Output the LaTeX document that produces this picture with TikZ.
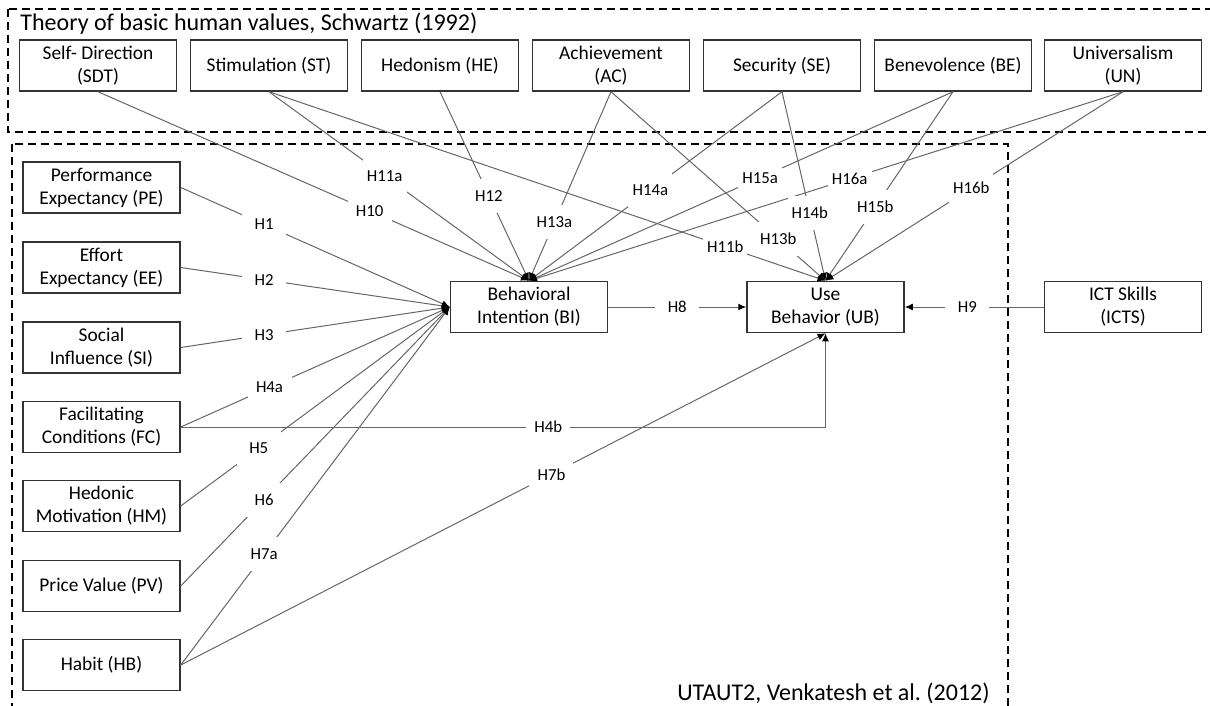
\documentclass[tikz,border=0pt]{standalone}
\usepackage{fontspec}
\setmainfont{Carlito}
\usetikzlibrary{arrows.meta}

\begin{document}
\begin{tikzpicture}[
  x=0.5pt, y=-0.5pt,
  box/.style={rectangle, draw=black!80, line width=0.75pt, align=center,
              font=\fontsize{9.7}{11.5}\selectfont, minimum width=78.5pt,
              minimum height=25.5pt, inner sep=1pt},
  hyp/.style={fill=white, font=\fontsize{8.4}{9}\selectfont, inner sep=0pt,
              minimum width=22pt, minimum height=17pt},
  arr/.style={-{Latex[length=4pt,width=3.4pt,color=black]}, draw=black!60,
              line width=0.5pt},
  region/.style={draw=black, line width=1pt, dash pattern=on 4pt off 2.5pt},
  title/.style={font=\fontsize{12}{14}\selectfont, inner sep=0pt}
]
\useasboundingbox (0,0) rectangle (1210,706);

% frames of the two theories
\draw[region] (8,9) rectangle (1222,132);
\draw[region] (12,144) rectangle (1008,720);
\node[title, anchor=base west] (schwartz) at (20,31) {Theory of basic human values, Schwartz (1992)};
\node[title, anchor=base east] (utaut)    at (990,700) {UTAUT2, Venkatesh et al.\ (2012)};

% Schwartz values
\node[box] (sdt) at (98,65.5)   {Self- Direction\\(SDT)};
\node[box] (st)  at (269,65.5)  {Stimulation (ST)};
\node[box] (he)  at (440,65.5)  {Hedonism (HE)};
\node[box] (ac)  at (611,65.5)  {Achievement\\(AC)};
\node[box] (se)  at (782,65.5)  {Security (SE)};
\node[box] (be)  at (953,65.5)  {Benevolence (BE)};
\node[box] (un)  at (1123,65.5) {Universalism\\(UN)};

% UTAUT2 constructs
\node[box] (pe) at (101.5,187.5) {Performance\\Expectancy (PE)};
\node[box] (ee) at (101.5,267.5) {Effort\\Expectancy (EE)};
\node[box] (si) at (101.5,347.5) {Social\\Influence (SI)};
\node[box] (fc) at (101.5,427)   {Facilitating\\Conditions (FC)};
\node[box] (hm) at (101.5,506)   {Hedonic\\Motivation (HM)};
\node[box] (pv) at (101.5,586)   {Price Value (PV)};
\node[box] (hb) at (101.5,665)   {Habit (HB)};

\node[box] (bi)   at (529,307)  {Behavioral\\Intention (BI)};
\node[box] (ub)   at (825.5,307){Use\\Behavior (UB)};
\node[box] (icts) at (1123,307) {ICT Skills\\(ICTS)};

% hypotheses towards BI
\draw[arr] (pe.east) -- node[hyp, pos=.31] (h1)  {H1}  (bi.west);
\draw[arr] (ee.east) -- node[hyp, pos=.31] (h2)  {H2}  (bi.west);
\draw[arr] (si.east) -- node[hyp, pos=.31] (h3)  {H3}  (bi.west);
\draw[arr] (fc.east) -- node[hyp, pos=.33] (h4a) {H4a} (bi.west);
\draw[arr] (hm.east) -- node[hyp, pos=.29] (h5)  {H5}  (bi.west);
\draw[arr] (pv.east) -- node[hyp, pos=.31] (h6)  {H6}  (bi.west);
\draw[arr] (hb.east) -- node[hyp, pos=.31] (h7a) {H7a} (bi.west);

\draw[arr] (sdt.south) -- node[hyp, pos=.63]  (h10)  {H10}  (bi.north);
\draw[arr] (st.south)  -- node[hyp, pos=.445] (h11a) {H11a} (bi.north);
\draw[arr] (he.south)  -- node[hyp, pos=.55]  (h12)  {H12}  (bi.north);
\draw[arr] (ac.south)  -- node[hyp, pos=.69]  (h13a) {H13a} (bi.north);
\draw[arr] (se.south)  -- node[hyp, pos=.52]  (h14a) {H14a} (bi.north);
\draw[arr] (be.south)  -- node[hyp, pos=.455] (h15a) {H15a} (bi.north);
\draw[arr] (un.south)  -- node[hyp, pos=.46]  (h16a) {H16a} (bi.north);

% hypotheses towards UB
\draw[arr] (st.south) -- node[hyp, pos=.82] (h11b) {H11b} (ub.north);
\draw[arr] (ac.south) -- node[hyp, pos=.78] (h13b) {H13b} (ub.north);
\draw[arr] (se.south) -- node[hyp, pos=.64] (h14b) {H14b} (ub.north);
\draw[arr] (be.south) -- node[hyp, pos=.61] (h15b) {H15b} (ub.north);
\draw[arr] (un.south) -- node[hyp, pos=.51] (h16b) {H16b} (ub.north);

\draw[arr] (bi.east)   -- node[hyp, pos=.5]  (h8) {H8} (ub.west);
\draw[arr] (icts.west) -- node[hyp, pos=.55] (h9) {H9} (ub.east);
\draw[arr] (fc.east) -- node[hyp, pos=.57] (h4b) {H4b} (fc.east -| ub.south) -- (ub.south);
\draw[arr] (hb.east) -- node[hyp, pos=.575] (h7b) {H7b} (ub.south);
\end{tikzpicture}
\end{document}
